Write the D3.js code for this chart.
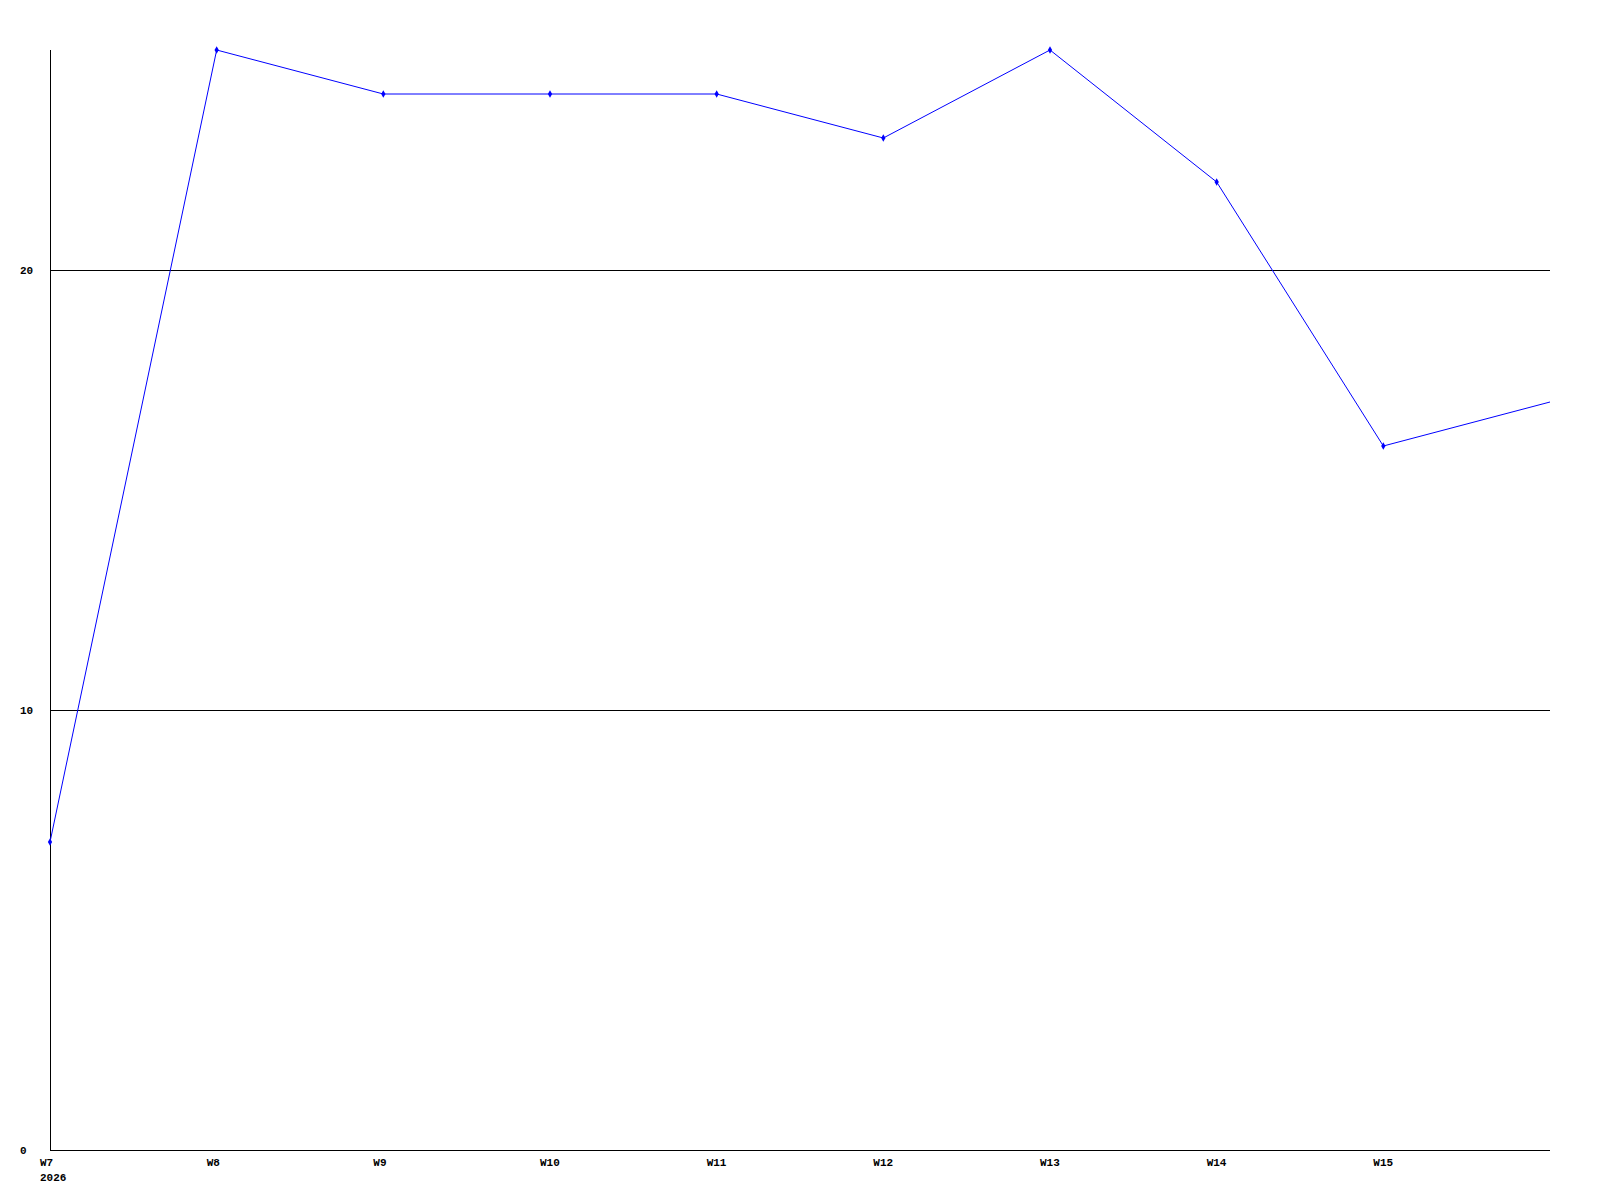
<!DOCTYPE html>
<html lang="en">
<head>
  <meta charset="UTF-8">
  <title>Weekly chart</title>
  <script src="https://cdn.jsdelivr.net/npm/d3@7"></script>
  <style>
    body { margin: 0; background: #fff; }
    text {
      font-family: "Liberation Mono", "DejaVu Sans Mono", monospace;
      font-size: 11px;
      font-weight: bold;
      fill: #000;
    }
  </style>
</head>
<body>
  <script>
    var weeks = ["W7", "W8", "W9", "W10", "W11", "W12", "W13", "W14", "W15", "W16"];
    var values = [7, 25, 24, 24, 24, 23, 25, 22, 16, 17];
    var xLabels = ["W7", "W8", "W9", "W10", "W11", "W12", "W13", "W14", "W15"];
    var yTicks = [0, 10, 20];
    var yearLabel = "2026";

    var w = 1600,
        h = 1200;

    var svg = d3.select("body")
                .append("svg")
                .attr("width", w)
                .attr("height", h);

    // x by week index, y linear 0..25
    var xScale = d3.scaleLinear()
      .domain([0, weeks.length - 1])
      .range([50, 1550]);

    var yScale = d3.scaleLinear()
      .domain([0, 25])
      .range([1150, 50]);

    // horizontal grid lines
    svg.selectAll("line.grid")
      .data(yTicks.filter(d => d > 0))
      .enter()
      .append("line")
      .attr("class", "grid")
      .attr("x1", xScale(0))
      .attr("x2", xScale(weeks.length - 1))
      .attr("y1", d => Math.round(yScale(d)) + 0.5)
      .attr("y2", d => Math.round(yScale(d)) + 0.5)
      .attr("stroke", "#000")
      .attr("shape-rendering", "crispEdges");

    // axes lines
    svg.append("line")
      .attr("x1", xScale(0) + 0.5).attr("x2", xScale(0) + 0.5)
      .attr("y1", yScale(25)).attr("y2", yScale(0))
      .attr("stroke", "#000")
      .attr("shape-rendering", "crispEdges");

    svg.append("line")
      .attr("x1", xScale(0)).attr("x2", xScale(weeks.length - 1))
      .attr("y1", yScale(0) + 0.5).attr("y2", yScale(0) + 0.5)
      .attr("stroke", "#000")
      .attr("shape-rendering", "crispEdges");

    // y labels
    svg.selectAll("text.ylab")
      .data(yTicks)
      .enter()
      .append("text")
      .attr("class", "ylab")
      .attr("x", 20)
      .attr("y", d => yScale(d) + 4)
      .text(d => d);

    // x labels
    svg.selectAll("text.xlab")
      .data(xLabels)
      .enter()
      .append("text")
      .attr("class", "xlab")
      .attr("x", (d, i) => xScale(i) - 10)
      .attr("y", yScale(0) + 16)
      .text(d => d);

    svg.append("text")
      .attr("x", xScale(0) - 10)
      .attr("y", yScale(0) + 31)
      .text(yearLabel);

    // data line
    var line = d3.line()
      .x((d, i) => xScale(i))
      .y(d => yScale(d));

    svg.append("path")
      .datum(values)
      .attr("d", line)
      .attr("fill", "none")
      .attr("stroke", "#0000ff")
      .attr("stroke-width", 1);

    // point markers (last one sits on the edge, not drawn)
    svg.selectAll("path.pt")
      .data(values.slice(0, values.length - 1))
      .enter()
      .append("path")
      .attr("class", "pt")
      .attr("d", d3.symbol().type(d3.symbolDiamond).size(16))
      .attr("transform", (d, i) => `translate(${xScale(i)},${yScale(d)})`)
      .attr("fill", "#0000ff");
  </script>
</body>
</html>
